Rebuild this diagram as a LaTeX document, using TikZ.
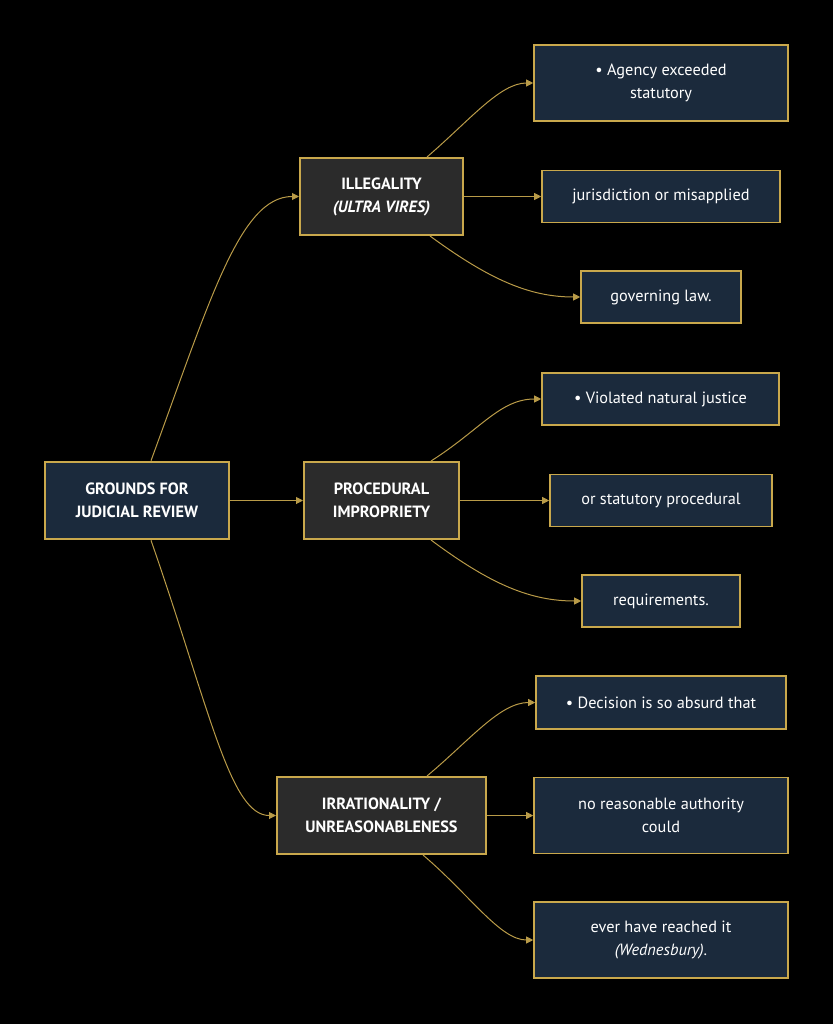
\documentclass[tikz,border=0pt]{standalone}
\usepackage{fontspec}
\setmainfont{PT Sans}
\usetikzlibrary{arrows.meta,calc}
\definecolor{gold}{HTML}{C9A84C}
\definecolor{edgegold}{HTML}{B99B48}
\definecolor{navy}{HTML}{1B2A3C}
\definecolor{darkgray}{HTML}{2B2B2B}
\tikzset{
  base/.style={draw=gold, text=white, align=center, inner sep=0pt, font=\fontsize{16.3}{23}\selectfont},
  rootbox/.style={base, fill=navy, line width=2.6pt, font=\fontsize{16.3}{23}\selectfont\bfseries},
  catbox/.style={base, fill=darkgray, line width=2pt, font=\fontsize{16.3}{23}\selectfont\bfseries},
  leafbox/.style={base, fill=navy, line width=1.6pt},
  conn/.style={draw=edgegold, line width=1pt, -{Triangle[length=7pt,width=7pt]}}
}
\begin{document}
\begin{tikzpicture}[x=1pt,y=-1pt]
\fill[black] (0,0) rectangle (833,1024);
\useasboundingbox (0,0) rectangle (833,1024);

\node[rootbox, minimum width=184, minimum height=77] (root) at (137,500.5) {GROUNDS FOR\\JUDICIAL REVIEW};

\node[catbox, minimum width=163, minimum height=77] (ill) at (381.5,196.5) {ILLEGALITY\\\textit{(ULTRA VIRES)}};
\node[catbox, minimum width=155, minimum height=77] (proc) at (381.5,500.5) {PROCEDURAL\\IMPROPRIETY};
\node[catbox, minimum width=209, minimum height=77] (irr) at (381.5,815.5) {IRRATIONALITY /\\UNREASONABLENESS};

\node[leafbox, minimum width=254, minimum height=76] (l1) at (661,83) {• Agency exceeded\\statutory};
\node[leafbox, minimum width=238, minimum height=52] (l2) at (661,196.5) {jurisdiction or misapplied};
\node[leafbox, minimum width=160, minimum height=52] (l3) at (661,297) {governing law.};

\node[leafbox, minimum width=237, minimum height=52] (p1) at (660.5,399) {• Violated natural justice};
\node[leafbox, minimum width=222, minimum height=52] (p2) at (661,500.5) {or statutory procedural};
\node[leafbox, minimum width=158, minimum height=52] (p3) at (661,601) {requirements.};

\node[leafbox, minimum width=250, minimum height=53] (i1) at (661,702.5) {• Decision is so absurd that};
\node[leafbox, minimum width=254, minimum height=76] (i2) at (661,815.5) {no reasonable authority\\could};
\node[leafbox, minimum width=254, minimum height=76] (i3) at (661,940) {ever have reached it\\\textit{(Wednesbury)}.};

% root to categories
\draw[conn] ($(root.north)+(14,0)$) .. controls (210,300) and (240,196.5) .. (ill.west);
\draw[conn] (root.east) -- (proc.west);
\draw[conn] ($(root.south)+(14,0)$) .. controls (210,710) and (230,815.5) .. (irr.west);

% illegality
\draw[conn] ($(ill.north)+(45.5,0)$) .. controls (470,120) and (500,83) .. (l1.west);
\draw[conn] (ill.east) -- (l2.west);
\draw[conn] ($(ill.south)+(48.5,0)$) .. controls (490,280) and (530,297) .. (l3.west);

% procedural
\draw[conn] ($(proc.north)+(49.5,0)$) .. controls (480,430) and (500,399) .. (p1.west);
\draw[conn] (proc.east) -- (p2.west);
\draw[conn] ($(proc.south)+(49.5,0)$) .. controls (490,584) and (530,601) .. (p3.west);

% irrationality
\draw[conn] ($(irr.north)+(45.5,0)$) .. controls (470,740) and (500,702.5) .. (i1.west);
\draw[conn] (irr.east) -- (i2.west);
\draw[conn] ($(irr.south)+(41.5,0)$) .. controls (470,895) and (500,940) .. (i3.west);
\end{tikzpicture}
\end{document}
